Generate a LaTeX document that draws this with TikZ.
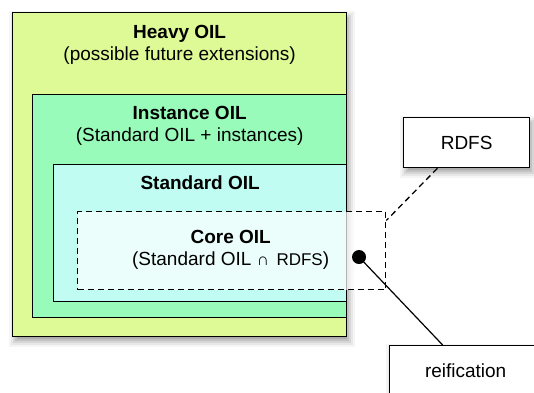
\documentclass[tikz,border=0pt]{standalone}
\usepackage{fontspec}
\setmainfont{Liberation Sans}
\usetikzlibrary{calc}
\definecolor{heavyc}{RGB}{221,250,150}
\definecolor{instc}{RGB}{152,251,185}
\definecolor{stdc}{RGB}{192,252,242}
\begin{document}
\begin{tikzpicture}[x=1pt,y=-1pt,
  box/.style={draw=black, line width=1.3pt, rectangle, anchor=north west, inner sep=0pt},
  lbl/.style={font=\fontsize{19}{22}\selectfont, anchor=base, inner sep=0pt},
  dsh/.style={line width=1.3pt, dash pattern=on 6pt off 4pt},
  sa/.style={fill=black!4},
  sb/.style={fill=black!9},
  sc/.style={fill=black!16},
  sd/.style={fill=black!24},
  se/.style={fill=black!32}]
\useasboundingbox (0,0) rectangle (534,392);
% shadow of the Heavy OIL box
\fill[sa] (9,11) rectangle (355,347);
\fill[sb] (11,13) rectangle (353,345);
\fill[sc] (13,15) rectangle (351,343);
\fill[sd] (15,17) rectangle (349,341);
\fill[se] (17,19) rectangle (347,339);
% shadow of the RDFS box
\fill[sa] (400,116) rectangle (538,178);
\fill[sb] (402,118) rectangle (536,176);
\fill[sc] (404,120) rectangle (534,174);
\fill[sd] (406,122) rectangle (532,172);
\fill[se] (408,124) rectangle (530,170);
% shadow of the reification box
\fill[sa] (386,344) rectangle (550,406);
\fill[sb] (388,346) rectangle (548,404);
\fill[sc] (390,348) rectangle (546,402);
\fill[sd] (392,350) rectangle (544,400);
\fill[se] (394,352) rectangle (542,398);

\node[box, fill=heavyc, minimum width=334pt, minimum height=324pt] (heavy) at (12,12) {};
\node[box, fill=instc, minimum width=314pt, minimum height=223pt] (inst) at (32,94) {};
\node[box, fill=stdc, minimum width=293pt, minimum height=137pt] (std) at (53,164) {};
\node[box, draw=none, fill=white, fill opacity=0.7, minimum width=308pt, minimum height=78pt] (corefill) at (77,211) {};
\node[box, dsh, minimum width=308pt, minimum height=78pt] (core) at (77,211) {};

\node[lbl] (heavyt) at ($(heavy.north)+(0,26)$) {\bfseries Heavy OIL};
\node[lbl] (heavys) at ($(heavy.north)+(0,48)$) {(possible future extensions)};
\node[lbl] (instt) at ($(inst.north)+(0,25)$) {\bfseries Instance OIL};
\node[lbl] (insts) at ($(inst.north)+(0,47)$) {(Standard OIL + instances)};
\node[lbl] (stdt) at ($(std.north)+(0,25)$) {\bfseries Standard OIL};
\node[lbl] (coret) at ($(core.north)+(-1,32)$) {\bfseries Core OIL};
\node[lbl] (cores) at ($(core.north)+(-1,54)$) {(Standard OIL {\fontsize{17}{20}\selectfont ∩\, RDFS})};

\node[box, fill=white, minimum width=126pt, minimum height=50pt, font=\fontsize{19}{22}\selectfont] (rdfs) at (403,117) {RDFS};
\node[box, fill=white, minimum width=152pt, minimum height=50pt, font=\fontsize{19}{22}\selectfont] (reif) at (389,345) {reification};

\node[circle, fill=black, minimum size=14pt, inner sep=0pt] (dot) at (359,257) {};
\draw[dsh] ($(rdfs.south west)!0.27!(rdfs.south east)$) -- ($(core.north east)!0.12!(core.south east)$);
\draw[line width=1.2pt] (dot.center) -- ($(reif.north west)!0.35!(reif.north east)$);
\end{tikzpicture}
\end{document}
